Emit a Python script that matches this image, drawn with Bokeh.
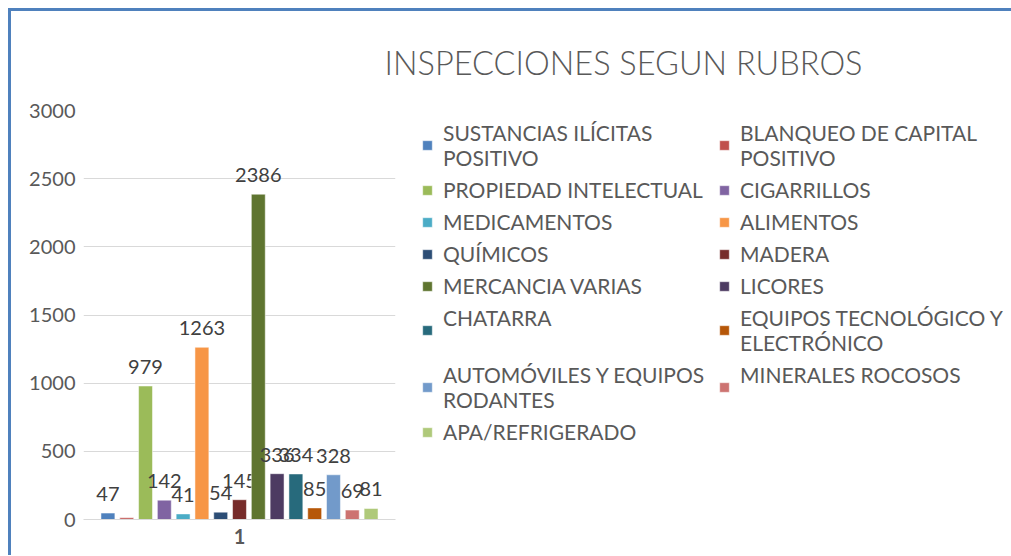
from bokeh.plotting import figure
from bokeh.models import ColumnDataSource, FactorRange, FixedTicker, Legend, LegendItem, Title
from bokeh.core.properties import value
from bokeh.embed import file_html
from bokeh.resources import INLINE

title_text = "INSPECCIONES SEGUN RUBROS"
group = "1"
categories = [
    "SUSTANCIAS ILÍCITAS POSITIVO", "BLANQUEO DE CAPITAL POSITIVO", "PROPIEDAD INTELECTUAL",
    "CIGARRILLOS", "MEDICAMENTOS", "ALIMENTOS", "QUÍMICOS", "MADERA", "MERCANCIA VARIAS",
    "LICORES", "CHATARRA", "EQUIPOS TECNOLÓGICO Y ELECTRÓNICO", "AUTOMÓVILES Y EQUIPOS RODANTES",
    "MINERALES ROCOSOS", "APA/REFRIGERADO",
]
legend_labels = [
    "SUSTANCIAS ILÍCITAS\nPOSITIVO", "BLANQUEO DE CAPITAL\nPOSITIVO", "PROPIEDAD INTELECTUAL",
    "CIGARRILLOS", "MEDICAMENTOS", "ALIMENTOS", "QUÍMICOS", "MADERA", "MERCANCIA VARIAS",
    "LICORES", "CHATARRA\n ", "EQUIPOS TECNOLÓGICO Y\nELECTRÓNICO", "AUTOMÓVILES Y EQUIPOS\nRODANTES",
    "MINERALES ROCOSOS\n ", "APA/REFRIGERADO",
]
values = [47, 12, 979, 142, 41, 1263, 54, 145, 2386, 336, 334, 85, 328, 69, 81]
value_labels = ["47", "", "979", "142", "41", "1263", "54", "145", "2386", "336", "334", "85", "328", "69", "81"]
colors = [
    "#4F81BD", "#C0504D", "#9BBB59", "#8064A2", "#4BACC6", "#F79646", "#2C4D75", "#772C2A",
    "#5F7530", "#4D3B62", "#276A7C", "#B65708", "#729ACA", "#CD7371", "#AFC97A",
]
y_ticks = [0, 500, 1000, 1500, 2000, 2500, 3000]

FONT = "Lato"
factors = [(group, c) for c in categories]

p = figure(
    frame_width=312, frame_height=409,
    x_range=FactorRange(*factors, range_padding=0.8, range_padding_units="absolute"),
    y_range=(0, 3000),
    output_backend="svg", toolbar_location=None,
    min_border_left=72, min_border_right=26,
    min_border_top=99, min_border_bottom=36,
    outline_line_color=None,
    styles={"border-top": "3px solid #4F81BD", "border-left": "3px solid #4F81BD",
            "margin-top": "8px", "margin-left": "8px"},
)

p.title = Title(text=title_text, align="left", offset=301, standoff=57,
                text_font="Lato Light", text_font_size="32.5px",
                text_font_style="normal", text_color="#595959")

renderers = []
for i, f in enumerate(factors):
    src = ColumnDataSource(dict(x=[f], top=[values[i]], label=[value_labels[i]]))
    r = p.vbar(x="x", top="top", width=0.74, source=src, fill_color=colors[i],
               line_color="white", line_width=0.5)
    renderers.append(r)
    p.text(x="x", y="top", text="label", source=src, text_align="center",
           text_baseline="alphabetic", y_offset=-19, text_font=value(FONT),
           text_font_size="20px", text_color="#404040")

# two legend columns, read row by row (Bokeh fills columns first)
n = len(categories)
order = list(range(0, n, 2)) + list(range(1, n, 2))
items = [LegendItem(label=legend_labels[i], renderers=[renderers[i]]) for i in order]
legend = Legend(items=items, ncols=2, location=(26, 75),
                border_line_color=None, background_fill_alpha=0, padding=0, margin=0,
                spacing=7, glyph_width=12, glyph_height=12, label_standoff=10,
                label_width=268,
                label_text_font=FONT, label_text_font_size="21px", label_text_color="#595959",
                label_text_line_height=1.15)
p.add_layout(legend, "right")

p.xgrid.visible = False
p.ygrid.grid_line_color = "#D9D9D9"
p.ygrid.ticker = FixedTicker(ticks=y_ticks)
p.yaxis.ticker = FixedTicker(ticks=y_ticks)
p.yaxis.axis_line_color = None
p.yaxis.major_tick_line_color = None
p.yaxis.minor_tick_line_color = None
p.yaxis.major_tick_out = 0
p.yaxis.major_tick_in = 0
p.yaxis.major_label_standoff = 8
p.yaxis.major_label_text_font = FONT
p.yaxis.major_label_text_font_size = "20px"
p.yaxis.major_label_text_color = "#595959"

p.xaxis.axis_line_color = "#D9D9D9"
p.xaxis.major_tick_line_color = None
p.xaxis.minor_tick_line_color = None
p.xaxis.major_tick_out = 0
p.xaxis.major_tick_in = 0
p.xaxis.major_label_standoff = 9
p.xaxis.major_label_text_font_size = "0px"
p.xaxis.group_text_font = FONT
p.xaxis.group_text_font_size = "20px"
p.xaxis.group_text_color = "#595959"
p.xaxis.separator_line_color = None

open("out.html", "w").write(file_html(p, INLINE))
